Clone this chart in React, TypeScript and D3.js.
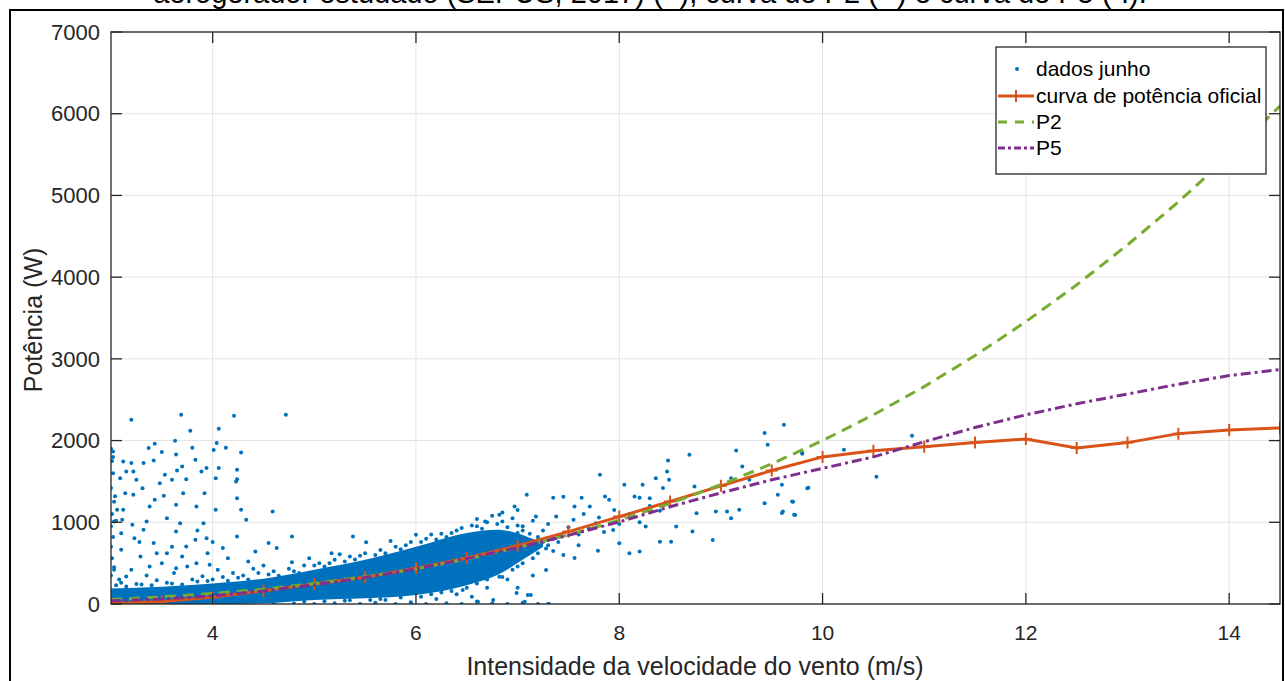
import React from 'react';
import * as d3 from 'd3';

// wind speed grid (m/s) used by the three curves
const speeds = [3, 3.5, 4, 4.5, 5, 5.5, 6, 6.5, 7, 7.5, 8, 8.5, 9, 9.5, 10, 10.5, 11, 11.5, 12, 12.5, 13, 13.5, 14, 14.5];
const officialPower = [5, 30, 82, 163, 245, 327, 437, 563, 714, 886, 1070, 1254, 1446, 1633, 1800, 1875, 1925, 1975, 2020, 1910, 1975, 2085, 2130, 2155];
const p2Power = [55, 85, 130, 180, 250, 335, 430, 550, 690, 845, 1025, 1230, 1460, 1715, 2000, 2315, 2660, 3040, 3455, 3905, 4395, 4920, 5490, 6095];
const p5Power = [40, 60, 100, 160, 235, 325, 430, 555, 690, 840, 1005, 1190, 1360, 1520, 1660, 1800, 1985, 2160, 2315, 2450, 2570, 2690, 2795, 2870];

// dense part of the June cloud (envelope)
const bandSpeed = [3.0, 3.5, 4.0, 4.5, 5.0, 5.5, 6.0, 6.5, 6.8, 7.1, 7.25];
const bandLow = [0, 0, 0, 10, 50, 70, 110, 230, 355, 580, 700];
const bandHigh = [190, 210, 250, 310, 420, 540, 700, 870, 910, 820, 740];

// scattered June samples [speed, power]
const junePoints = [
  [3.2, 2255], [3.69, 2316], [4.21, 2304], [4.72, 2316], [3.78, 2120], [4.06, 2145], [3.63, 1997], [4.04, 1969],
  [4.13, 1912], [3.37, 1908], [3.43, 1960], [3.8, 1912], [4.28, 1854], [3.02, 1866], [3.02, 1800], [3.5, 1860],
  [3.64, 1830], [4.01, 1885], [3.12, 1744], [3.2, 1724], [3.32, 1724], [3.42, 1757], [3.7, 1684], [3.83, 1765],
  [3.94, 1663], [4.06, 1663], [4.24, 1643], [3.15, 1622], [3.22, 1622], [3.53, 1581], [3.65, 1634], [3.89, 1622],
  [4.03, 1540], [4.24, 1528], [3.09, 1540], [3.25, 1520], [3.48, 1479], [3.6, 1520], [3.74, 1528], [3.31, 1418],
  [3.71, 1356], [3.92, 1356], [3.14, 1356], [3.22, 1336], [3.43, 1275], [3.52, 1324], [4.24, 1295], [4.23, 1499],
  [3.06, 1152], [3.12, 1152], [3.38, 1193], [3.64, 1214], [3.84, 1193], [4.03, 1152], [4.28, 1152], [4.59, 1132],
  [3.03, 1009], [3.11, 1030], [3.21, 969], [3.35, 1009], [3.55, 1050], [3.68, 989], [3.91, 989], [4.24, 826],
  [4.33, 1030], [4.78, 826], [3.32, 908], [3.64, 887], [3.94, 806], [3.1, 867], [3.23, 806], [3.42, 745],
  [3.83, 785], [3.74, 704], [3.55, 622], [4.1, 684], [3.1, 663], [3.29, 582], [3.7, 582], [4.42, 643],
  [4.55, 745], [4.63, 684], [3.97, 479], [3.38, 459], [3.15, 337], [3.64, 439], [3.84, 500], [3.03, 418],
  [5.38, 825], [5.51, 755], [5.17, 622], [4.78, 510], [6.0, 846],
  [3.0, 1900], [3.01, 1750], [3.02, 1600], [3.0, 1420], [3.03, 1250], [3.01, 1100], [3.0, 950], [3.02, 820],
  [3.0, 700], [3.01, 560], [3.03, 450], [3.0, 350], [3.05, 1020], [3.04, 1320],
  [3.08, 300], [3.2, 420], [3.35, 350], [3.5, 500], [3.62, 380], [3.75, 460], [3.9, 340], [4.05, 420],
  [4.2, 380], [4.35, 520], [4.5, 470], [3.28, 760], [3.6, 700], [3.95, 620], [4.15, 560], [3.45, 620],
  [3.85, 900], [4.0, 760],
  [3.1, 260], [3.3, 240], [3.45, 290], [3.6, 250], [3.8, 300], [3.95, 280], [4.1, 330], [4.3, 350],
  [4.45, 380], [4.6, 400], [4.75, 430], [4.9, 470], [5.05, 500], [5.2, 540], [5.35, 580], [5.5, 620],
  [5.65, 660], [5.8, 700], [5.95, 760], [6.1, 800], [6.25, 860], [6.4, 900], [6.55, 960], [6.7, 1000],
  [6.85, 1010], [7.0, 960], [5.25, 610], [5.75, 770], [6.15, 850], [6.6, 1040], [4.95, 560], [4.4, 430],
  [3.05, 230], [3.15, 215], [3.25, 245], [3.4, 230], [3.55, 260], [3.7, 240], [3.85, 275], [4.0, 300],
  [4.15, 285], [4.25, 320], [4.35, 300], [4.55, 360], [4.65, 345], [4.8, 400], [4.85, 380], [5.0, 470],
  [5.1, 460], [5.15, 500], [5.3, 520], [5.4, 545], [5.45, 590], [5.6, 600], [5.7, 620], [5.85, 670],
  [5.9, 720], [6.05, 760], [6.2, 790], [6.3, 820], [6.35, 870], [6.45, 930], [6.6, 950], [6.65, 920],
  [6.8, 980], [6.9, 940], [7.05, 900], [7.12, 860], [7.2, 820], [7.25, 760], [7.3, 720], [7.35, 800],
  [4.9, 30], [5.1, 35], [5.35, 45], [5.55, 50], [5.65, 60], [5.85, 80], [6.05, 90], [6.15, 120],
  [6.35, 160], [6.5, 200], [6.6, 250], [6.7, 300], [6.85, 330], [6.95, 420], [7.05, 500], [7.15, 560],
  [7.2, 620], [6.25, 140], [7.28, 680], [7.0, 460],
  [4.6, 0], [4.8, 5], [5.0, 0], [5.2, 10], [5.45, 0], [5.6, 15], [5.8, 0], [5.95, 20], [6.1, 0], [6.3, 10],
  [6.45, 0], [6.6, 30], [6.75, 5], [6.9, 0], [7.05, 15], [7.2, 0], [7.3, 0], [5.3, 40], [5.7, 50], [6.2, 60],
  [6.4, 120], [6.7, 200], [6.9, 300], [6.55, 90], [7.0, 200], [7.15, 350], [7.1, 110],
  [7.05, 950], [7.15, 1020], [7.25, 900], [7.3, 980], [7.4, 760], [7.5, 940], [7.55, 1030], [7.6, 850],
  [7.65, 1100], [7.7, 920], [7.8, 1060], [7.85, 880], [7.95, 1150], [8.0, 980], [8.1, 1100], [8.2, 1000],
  [8.3, 1200], [8.4, 1140], [7.2, 700], [7.35, 650], [7.45, 600], [7.6, 720], [7.1, 620], [6.95, 1050],
  [6.85, 1120], [7.0, 1150], [6.75, 1080],
  [9.62, 2194], [9.43, 2092], [9.46, 1949], [9.15, 1879], [8.69, 1826], [8.48, 1756], [9.8, 1847], [10.21, 1887],
  [10.88, 2060], [10.53, 1556], [9.86, 1422], [9.71, 1250], [9.6, 1115], [9.73, 1090], [9.6, 1458], [9.8, 1838],
  [8.05, 1458], [8.23, 1458], [8.36, 1540], [8.47, 1621], [8.49, 1520], [8.43, 1421], [8.74, 1437], [8.15, 1315],
  [8.2, 1299], [7.81, 1581], [7.09, 1336], [7.35, 1299], [7.45, 1311], [7.63, 1299], [7.71, 1192], [7.86, 1315],
  [7.9, 1275], [6.97, 1192], [6.82, 1091], [6.68, 1009], [7.18, 1070], [7.38, 1070], [7.56, 1192], [7.77, 989],
  [7.94, 907], [8.1, 621], [8.2, 641], [8.26, 947], [8.4, 763], [8.51, 763], [8.56, 947], [8.72, 886],
  [8.76, 1111], [8.95, 1131], [8.92, 784], [9.1, 1050], [9.06, 1131], [9.18, 1152], [9.43, 1234], [9.56, 1336],
  [9.61, 1131], [9.72, 1091], [9.7, 1254], [9.85, 1418], [9.21, 1683], [9.1, 1540], [9.28, 1520], [8.3, 1295],
  [7.56, 564], [7.28, 417], [7.13, 110], [7.31, 0], [7.07, 28], [6.76, 49], [6.61, 28], [6.46, 172],
  [6.99, 135], [6.58, 539], [6.69, 315], [6.82, 335], [7.2, 784], [7.41, 825], [7.0, 870], [7.79, 653], [8.0, 744]
];

const xTicks = [4, 6, 8, 10, 12, 14];
const yTicks = [0, 1000, 2000, 3000, 4000, 5000, 6000, 7000];

const legendLabels = ['dados junho', 'curva de potência oficial', 'P2', 'P5'];

const blue = '#0072BD';
const orange = '#D95319';
const green = '#77AC30';
const purple = '#7E2F8E';
const axisColor = '#262626';
const font = '"Liberation Sans", Arial, sans-serif';

const left = 111, right = 1280, top = 32, bottom = 604;
const tickLen = 11;

export default function App() {
  const x = d3.scaleLinear().domain([3, 14.5]).range([left, right]);
  const y = d3.scaleLinear().domain([0, 7000]).range([bottom, top]);

  const line = d3.line<number>()
    .x((d, i) => x(speeds[i]))
    .y(d => y(d));

  const band = d3.area<number>()
    .x(d => x(d))
    .y0((d, i) => y(bandLow[i]))
    .y1((d, i) => y(bandHigh[i]))
    .curve(d3.curveMonotoneX);

  const plus = (cx: number, cy: number, s: number, key: string) => (
    <path key={key} d={`M${cx - s},${cy}H${cx + s}M${cx},${cy - s}V${cy + s}`} stroke={orange} strokeWidth={2} fill="none" />
  );

  const legX = 996, legY = 47, legW = 270, legH = 127;
  const rowY = [69, 96, 122, 148];

  return (
    <div style={{ position: 'absolute', left: 0, top: 0 }}>
      <svg width={1285} height={681} style={{ display: 'block', background: '#fff' }} fontFamily={font}>
        <defs>
          <clipPath id="plotArea">
            <rect x={left} y={top} width={right - left} height={bottom - top} />
          </clipPath>
        </defs>

        {/* caption cut by the top of the page, as in the source */}
        <text x={650} y={3} fontSize={29} textAnchor="middle" fill="#000">
          aerogerador estudado (SEPUS, 2017) (+), curva de P2 (--) e curva de P5 (-.).
        </text>

        {/* outer frame */}
        <path d="M10,681V10H1283V681" fill="none" stroke="#000" strokeWidth={2} />

        {/* grid */}
        <g stroke="#e3e3e3" strokeWidth={1}>
          {xTicks.map(t => <line key={'gx' + t} x1={x(t)} x2={x(t)} y1={top} y2={bottom} />)}
          {yTicks.map(t => <line key={'gy' + t} x1={left} x2={right} y1={y(t)} y2={y(t)} />)}
        </g>

        <g clipPath="url(#plotArea)">
          <path d={band(bandSpeed) || ''} fill={blue} />
          {junePoints.map((p, i) => (
            <circle key={'p' + i} cx={x(p[0])} cy={y(p[1])} r={2} fill={blue} />
          ))}
          <path d={line(officialPower) || ''} fill="none" stroke={orange} strokeWidth={3} />
          {officialPower.map((v, i) => plus(x(speeds[i]), y(v), 6, 'm' + i))}
          <path d={line(p2Power) || ''} fill="none" stroke={green} strokeWidth={3} strokeDasharray="11 7" />
          <path d={line(p5Power) || ''} fill="none" stroke={purple} strokeWidth={3} strokeDasharray="10 4 3 4" />
        </g>

        {/* axes box and ticks */}
        <rect x={left} y={top} width={right - left} height={bottom - top} fill="none" stroke={axisColor} strokeWidth={1.3} />
        <g stroke={axisColor} strokeWidth={1.3}>
          {xTicks.map(t => (
            <g key={'tx' + t}>
              <line x1={x(t)} x2={x(t)} y1={bottom} y2={bottom - tickLen} />
              <line x1={x(t)} x2={x(t)} y1={top} y2={top + tickLen} />
            </g>
          ))}
          {yTicks.map(t => (
            <g key={'ty' + t}>
              <line x1={left} x2={left + tickLen} y1={y(t)} y2={y(t)} />
              <line x1={right} x2={right - tickLen} y1={y(t)} y2={y(t)} />
            </g>
          ))}
        </g>

        <g fill={axisColor} fontSize={21}>
          {xTicks.map(t => (
            <text key={'lx' + t} x={x(t)} y={640} textAnchor="middle">{t}</text>
          ))}
        </g>
        <g fill={axisColor} fontSize={22}>
          {yTicks.map(t => (
            <text key={'ly' + t} x={100} y={y(t)} dy="0.35em" textAnchor="end">{t}</text>
          ))}
        </g>

        <text x={695} y={675} fontSize={25} textAnchor="middle" fill={axisColor}>
          Intensidade da velocidade do vento (m/s)
        </text>
        <text transform="translate(42,320) rotate(-90)" fontSize={25} textAnchor="middle" fill={axisColor}>
          Potência (W)
        </text>

        {/* legend */}
        <g>
          <rect x={legX} y={legY} width={legW} height={legH} fill="#fff" stroke={axisColor} strokeWidth={1.3} />
          <circle cx={1017} cy={rowY[0]} r={2} fill={blue} />
          <line x1={998} x2={1034} y1={rowY[1]} y2={rowY[1]} stroke={orange} strokeWidth={3} />
          {plus(1016, rowY[1], 6, 'legplus')}
          <line x1={998} x2={1034} y1={rowY[2]} y2={rowY[2]} stroke={green} strokeWidth={3} strokeDasharray="9 8" />
          <line x1={998} x2={1034} y1={rowY[3]} y2={rowY[3]} stroke={purple} strokeWidth={3} strokeDasharray="7 3 3 3" />
          {legendLabels.map((l, i) => (
            <text key={l} x={1036} y={rowY[i]} dy="0.35em" fontSize={21} fill="#000">{l}</text>
          ))}
        </g>
      </svg>
    </div>
  );
}
